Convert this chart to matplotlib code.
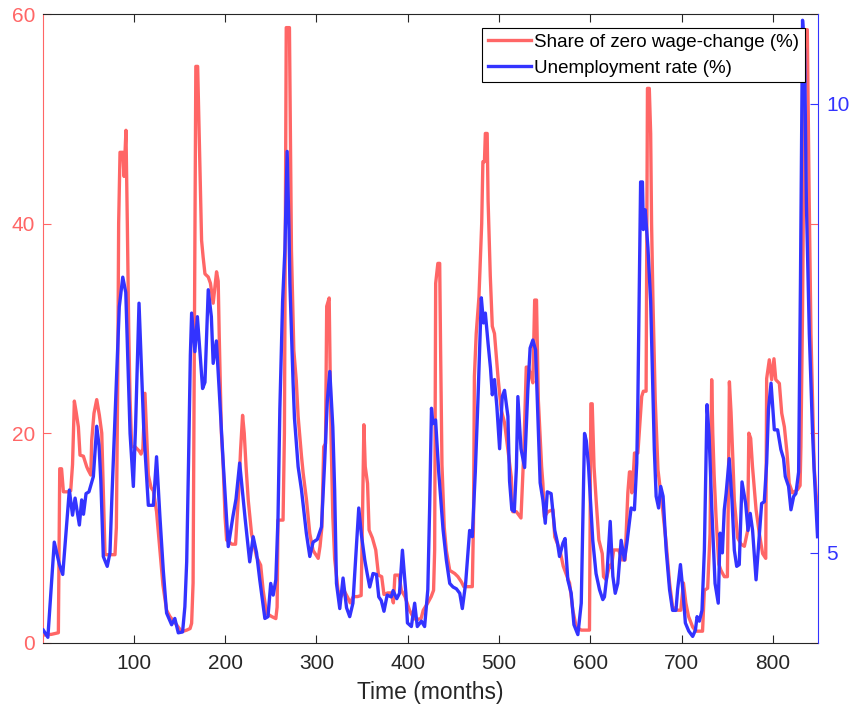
import matplotlib
matplotlib.use('Agg')
import matplotlib.pyplot as plt

plt.rcParams['font.family'] = ['Liberation Sans', 'DejaVu Sans']

# ---- data ----
months_share = [1, 10, 17.5, 19, 21, 23, 28.5, 31, 33, 35, 37, 39.4, 41.2, 44.9, 48.5, 50, 53, 54, 56.5,
                59.5, 62.4, 65, 66, 67.5, 68.6, 79.5, 81, 82.5, 83.5, 85, 88, 89.4, 91.5, 93, 94.5, 96,
                97.8, 101.4, 106, 108, 110, 112.3, 114, 116, 119, 121.5, 125, 128.7, 132, 136, 139.6,
                147, 152.5, 158, 161.7, 163.4, 165, 166.5, 168, 170, 172.5, 174.3, 176, 178, 181.6, 184,
                187, 189, 190.7, 192.5, 193.6, 196, 198, 200, 201.7, 207.5, 211.5, 215, 217, 219.2, 221,
                223, 225.4, 229, 234.5, 239, 241.7, 245.4, 251, 255.6, 257, 258, 263.5, 265, 267, 270.5,
                272.7, 275.3, 278, 280, 283.7, 285.5, 289.2, 292.8, 296.4, 302, 304, 306, 308, 310,
                311.3, 314, 316, 318, 320, 323.7, 327, 330.8, 334.4, 337, 340.5, 345, 349, 350.5, 352,
                353.5, 356, 357.7, 361.3, 365, 368, 371.5, 374, 378, 382, 384.3, 386, 390.5, 393, 397,
                402, 405.6, 409, 414.6, 417, 422, 425.7, 428.3, 429.5, 430.6, 433, 435, 436, 437.5, 440,
                442.3, 446, 451.5, 455, 458.8, 461.4, 470.7, 472, 473, 475, 478, 481, 482.3, 484, 485,
                487, 488, 490.4, 492.6, 495, 498.8, 502.4, 506, 509.7, 513.4, 515, 519, 524, 527, 529.8,
                532, 535.3, 537, 539, 541, 543, 546.6, 548, 549.6, 553.4, 559, 561, 566.6, 570.3, 575.8,
                577.2, 580.8, 584.5, 590, 599, 599.8, 600.5, 602, 604, 606.3, 609.3, 613, 614.4, 617.3,
                621, 623, 625.5, 631, 634.7, 638, 641, 642.8, 644, 645.4, 647, 648.3, 652, 656.2, 658,
                661, 662.5, 664.5, 666, 667, 668.5, 671, 674, 678.5, 683, 686.7, 690, 695.5, 699, 701.9,
                704.5, 707.5, 712, 715.5, 722.8, 724.8, 728.4, 731, 732.8, 734, 735.5, 737.6, 740.6, 743,
                746.7, 750, 751, 752.2, 754, 756, 757.6, 761.3, 765, 768.6, 772.2, 773.5, 775.5, 777.5,
                781.4, 785, 788.6, 792, 793, 795.9, 798.5, 801, 803, 806.9, 809.5, 812.4, 815.3, 817.7,
                821.3, 826.8, 829.6, 830.5, 832.3, 834, 835, 837.5, 839.6, 841.5, 845, 849]
share_zero = [0.73, 0.8, 0.95, 16.6, 16.6, 14.4, 14.4, 14.5, 17, 23.06, 22, 20.6, 17.9, 17.8, 16.8, 16.5,
              16.0, 19.3, 21.9, 23.2, 21.7, 20.0, 16.8, 12, 8.4, 8.4, 11, 25, 40, 46.8, 46.8, 44.5, 48.9,
              40, 30, 23.2, 18.7, 18.7, 18.3, 18.0, 18.5, 23.8, 20.3, 16, 14.8, 14.5, 12.5, 8.8, 5.5, 3.1,
              2.5, 1.7, 1.05, 1.2, 1.35, 1.85, 5.7, 30, 55.0, 55.0, 45.4, 38.4, 36.8, 35.2, 34.9, 34.3,
              32.4, 34.0, 35.4, 34.5, 29.4, 20.0, 16.8, 12, 9.8, 9.4, 9.4, 14.6, 18.4, 21.7, 20, 16.8,
              13.6, 10.4, 8.2, 7.4, 5.0, 2.8, 2.5, 2.3, 3.4, 11.7, 11.7, 20, 58.7, 58.7, 37.5, 27.9, 25,
              21.6, 17.8, 16.2, 13.6, 10.4, 8.8, 8.05, 9.2, 11, 18.7, 19, 32.1, 32.9, 19.8, 12, 8, 5.0,
              4.4, 4.9, 4.3, 3.8, 4.4, 4.4, 4.5, 12, 20.8, 16.8, 15.2, 10.75, 10.0, 8.85, 6.45, 6.3, 4.6,
              4.75, 4.75, 3.8, 6.45, 6.45, 5.0, 4.4, 3.1, 2.5, 2.2, 2.3, 3.1, 3.8, 4.4, 5.0, 8.85, 34.3,
              36.2, 36.2, 28, 17, 11, 8.8, 6.9, 6.6, 6.3, 5.8, 5.35, 5.35, 11.4, 25.4, 29.5, 33, 40,
              45.9, 45.9, 48.6, 48.6, 42.2, 35, 30.2, 29.5, 25.4, 22.2, 21.0, 18.4, 15.8, 12.5, 12.5,
              11.9, 18, 26.3, 26.3, 25.4, 24.8, 32.7, 32.7, 23.2, 16.8, 15.2, 12.0, 12.5, 12.7, 10.1,
              8.85, 7.3, 6.0, 5.7, 3.1, 1.5, 1.2, 1.2, 12.0, 22.8, 22.8, 16.8, 13.6, 9.8, 8.5, 6.3, 6.0,
              7.4, 7.2, 8.85, 8.85, 7.9, 7.9, 14.3, 16.3, 16.3, 14.3, 16, 18.1, 18.1, 23.5, 24.0, 24.0,
              52.9, 52.9, 48.6, 40, 32.7, 23.2, 16.5, 13.2, 9.5, 5.7, 3.4, 3.1, 3.1, 5.7, 3.8, 2.5, 1.5,
              1.1, 1.1, 5.0, 5.2, 10.4, 25.1, 20, 16, 12.0, 7.5, 6.9, 6.3, 6.3, 13.6, 24.9, 22, 17.5,
              13.6, 10.0, 9.4, 9.2, 10.7, 20.0, 19.5, 16.8, 12.7, 10.4, 8.5, 8.05, 25.2, 27.0, 25.1,
              27.1, 25.1, 24.75, 21.9, 20.6, 18.1, 15.2, 14.3, 14.6, 15, 18.7, 31.7, 50, 58.5, 58.5,
              42.2, 29.5, 16.8, 12.0]

months_unemp = [1, 6, 13, 18.6, 22.3, 29.5, 33, 35.8, 40.5, 43, 45, 47.8, 51, 55.8, 59.5, 62, 64, 66.7,
                71, 74, 76, 79.5, 84.2, 86, 88, 91.3, 96, 99.6, 102, 105.8, 111, 116, 121.5, 125, 128.7,
                132.4, 136, 141.5, 145, 148.8, 153.5, 156, 158, 160, 162, 163.4, 167, 169.7, 175.4, 178,
                181.6, 185, 187, 190.5, 194, 198, 203.5, 208.7, 212, 216, 222, 227, 230.8, 234.5, 238,
                243.6, 247, 250, 252.7, 255.6, 258, 260, 263, 265.5, 268, 270, 271, 274.5, 276, 280,
                283.7, 289, 292.8, 296.4, 301, 305.6, 309, 312, 314.7, 318, 320, 322, 325.6, 329.2, 333,
                336.5, 340, 342, 346.4, 349.3, 353, 355.6, 358.4, 362, 365.8, 368.3, 371, 374, 377.5,
                382, 384, 388, 391, 394.2, 398, 399.7, 404, 407.6, 410.5, 415, 418.5, 422, 424, 426,
                427.6, 430.5, 434, 438.7, 442.3, 446, 449.6, 453.3, 457, 459.8, 463.4, 467.8, 470.7,
                474, 476.9, 480.6, 483, 485, 488, 490.6, 492.6, 495, 497.6, 500.6, 503.5, 506, 509.7,
                511.5, 514, 516.7, 519, 520.6, 524, 528, 531.5, 534, 537, 540, 542.5, 545, 548, 550.6,
                552.8, 557, 561, 564, 566.2, 570, 572.3, 575.3, 579, 582, 586.3, 590, 593.6, 595.5, 598,
                602.6, 606.2, 610, 613.6, 615.4, 618, 621.7, 624.6, 627.2, 630, 633.7, 637.3, 640, 644.6,
                648.2, 650.8, 652, 655, 657, 658, 660, 663, 666, 670, 672, 674.7, 677, 679.6, 683, 686.7,
                690, 693.7, 695.5, 698.6, 701.2, 704, 707.7, 712, 715, 716.8, 719.3, 722.2, 724.8, 727.7,
                730, 733, 736.5, 740, 742, 744.5, 746.6, 748.6, 752, 755, 757.6, 760.2, 763, 766, 770,
                772.6, 775, 777.6, 781.4, 784.3, 787.5, 790.4, 793, 795, 797.8, 801.4, 805, 808.6, 811.5,
                813.4, 817, 819.6, 822.6, 825, 828, 830, 832.3, 834.5, 836.5, 839.7, 843.3, 845, 848.7]
unemp_rate = [4.14, 4.06, 5.12, 4.87, 4.76, 5.70, 5.42, 5.61, 5.31, 5.59, 5.43, 5.66, 5.68, 5.85, 6.41,
              6.2, 5.8, 4.96, 4.85, 5.0, 5.59, 6.5, 7.74, 7.9, 8.07, 7.9, 6.33, 5.74, 6.4, 7.78, 6.37,
              5.53, 5.53, 6.07, 5.4, 4.8, 4.33, 4.2, 4.27, 4.11, 4.12, 4.4, 4.9, 6.0, 7.2, 7.67, 7.24,
              7.63, 6.83, 6.9, 7.93, 7.63, 7.11, 7.36, 6.74, 6.0, 5.07, 5.41, 5.6, 6.0, 5.38, 4.9, 5.18,
              5.0, 4.7, 4.27, 4.29, 4.66, 4.53, 4.7, 5.4, 6.6, 7.8, 8.37, 9.47, 8.6, 8.0, 6.89, 6.5,
              5.96, 5.7, 5.22, 4.96, 5.12, 5.15, 5.29, 6.0, 6.7, 7.02, 6.4, 5.7, 4.66, 4.38, 4.72, 4.39,
              4.29, 4.44, 4.77, 5.5, 5.2, 4.92, 4.77, 4.62, 4.77, 4.76, 4.51, 4.47, 4.35, 4.53, 4.51,
              4.58, 4.49, 4.55, 5.03, 4.55, 4.22, 4.18, 4.44, 4.18, 4.24, 4.18, 4.59, 5.5, 6.61, 6.44,
              6.48, 5.89, 5.26, 4.92, 4.66, 4.62, 4.6, 4.55, 4.38, 4.66, 5.25, 5.18, 5.9, 6.7, 7.84,
              7.56, 7.67, 7.33, 7.06, 6.76, 6.93, 6.63, 6.16, 6.74, 6.81, 6.52, 5.8, 5.48, 5.46, 5.95,
              6.74, 6.16, 5.95, 6.81, 7.28, 7.37, 7.26, 6.52, 5.78, 5.59, 5.33, 5.68, 5.66, 5.25, 5.11,
              4.96, 5.11, 5.16, 4.7, 4.55, 4.2, 4.09, 4.44, 6.33, 6.25, 5.96, 5.14, 4.77, 4.59, 4.48,
              4.51, 4.74, 5.35, 4.74, 4.55, 4.66, 5.14, 4.92, 5.11, 5.5, 5.48, 6.0, 6.7, 9.13, 9.13, 8.6,
              8.82, 8.4, 7.8, 6.15, 5.63, 5.5, 5.74, 5.63, 5.03, 4.59, 4.36, 4.36, 4.59, 4.87, 4.59,
              4.22, 4.13, 4.07, 4.14, 4.29, 4.24, 4.36, 5.03, 6.65, 6.3, 5.48, 4.66, 4.44, 5.22, 5.0,
              5.48, 5.66, 6.05, 5.59, 5.03, 4.85, 4.87, 5.79, 5.55, 5.25, 5.44, 5.25, 4.7, 5.11, 5.55,
              5.57, 6.0, 6.6, 6.89, 6.37, 6.37, 6.15, 6.05, 5.85, 5.74, 5.48, 5.63, 5.66, 5.9, 8.0,
              10.93, 10.6, 8.9, 7.44, 6.33, 5.92, 5.18]

x_ticks = [100, 200, 300, 400, 500, 600, 700, 800]
left_ticks = [0, 20, 40, 60]
right_ticks = [5, 10]
share_label = 'Share of zero wage-change (%)'
unemp_label = 'Unemployment rate (%)'
x_label = 'Time (months)'

RED = '#FF6666'
BLUE = '#3333FF'
DARK = '#262626'

fig = plt.figure(figsize=(8.51, 7.08), dpi=100)
L, R, T, B = 43.3, 817.8, 14.0, 642.7
ax = fig.add_axes([L / 851, (708 - B) / 708, (R - L) / 851, (B - T) / 708])
ax2 = ax.twinx()

l1, = ax.plot(months_share, share_zero, color=RED, lw=2.4)
l2, = ax2.plot(months_unemp, unemp_rate, color=BLUE, lw=2.4)

ax.set_xlim(1, 849)
ax.set_ylim(0, 60)
ax2.set_ylim(4.0, 11.0)
ax.set_xticks(x_ticks)
ax.set_yticks(left_ticks)
ax2.set_yticks(right_ticks)

for s in ['top', 'bottom']:
    ax.spines[s].set_color(DARK)
    ax.spines[s].set_linewidth(0.8)
ax.spines['left'].set_color(RED)
ax.spines['left'].set_linewidth(0.8)
ax.spines['right'].set_visible(False)
for s in ['left', 'top', 'bottom']:
    ax2.spines[s].set_visible(False)
ax2.spines['right'].set_color(BLUE)
ax2.spines['right'].set_linewidth(0.8)

ax.tick_params(axis='x', direction='in', top=True, bottom=True, colors=DARK,
               labelsize=15, length=5.5, width=0.8, pad=8)
ax.tick_params(axis='y', direction='in', left=True, right=True, colors=RED,
               labelsize=15, length=5.5, width=0.8, pad=6)
ax2.tick_params(axis='y', direction='in', colors=BLUE, labelsize=15,
                length=5.5, width=0.8, pad=6)

ax.set_xlabel(x_label, fontsize=16.5, color=DARK, labelpad=6)

leg = ax2.legend([l1, l2], [share_label, unemp_label], loc='upper right',
                 bbox_to_anchor=(0.9836, 0.9777), borderaxespad=0, fancybox=False,
                 edgecolor='black', framealpha=1, fontsize=13.5, handlelength=2.3,
                 handletextpad=0.2, labelspacing=0.47, borderpad=0.3)
leg.get_frame().set_linewidth(0.8)

fig.savefig('out.png', dpi=100)
